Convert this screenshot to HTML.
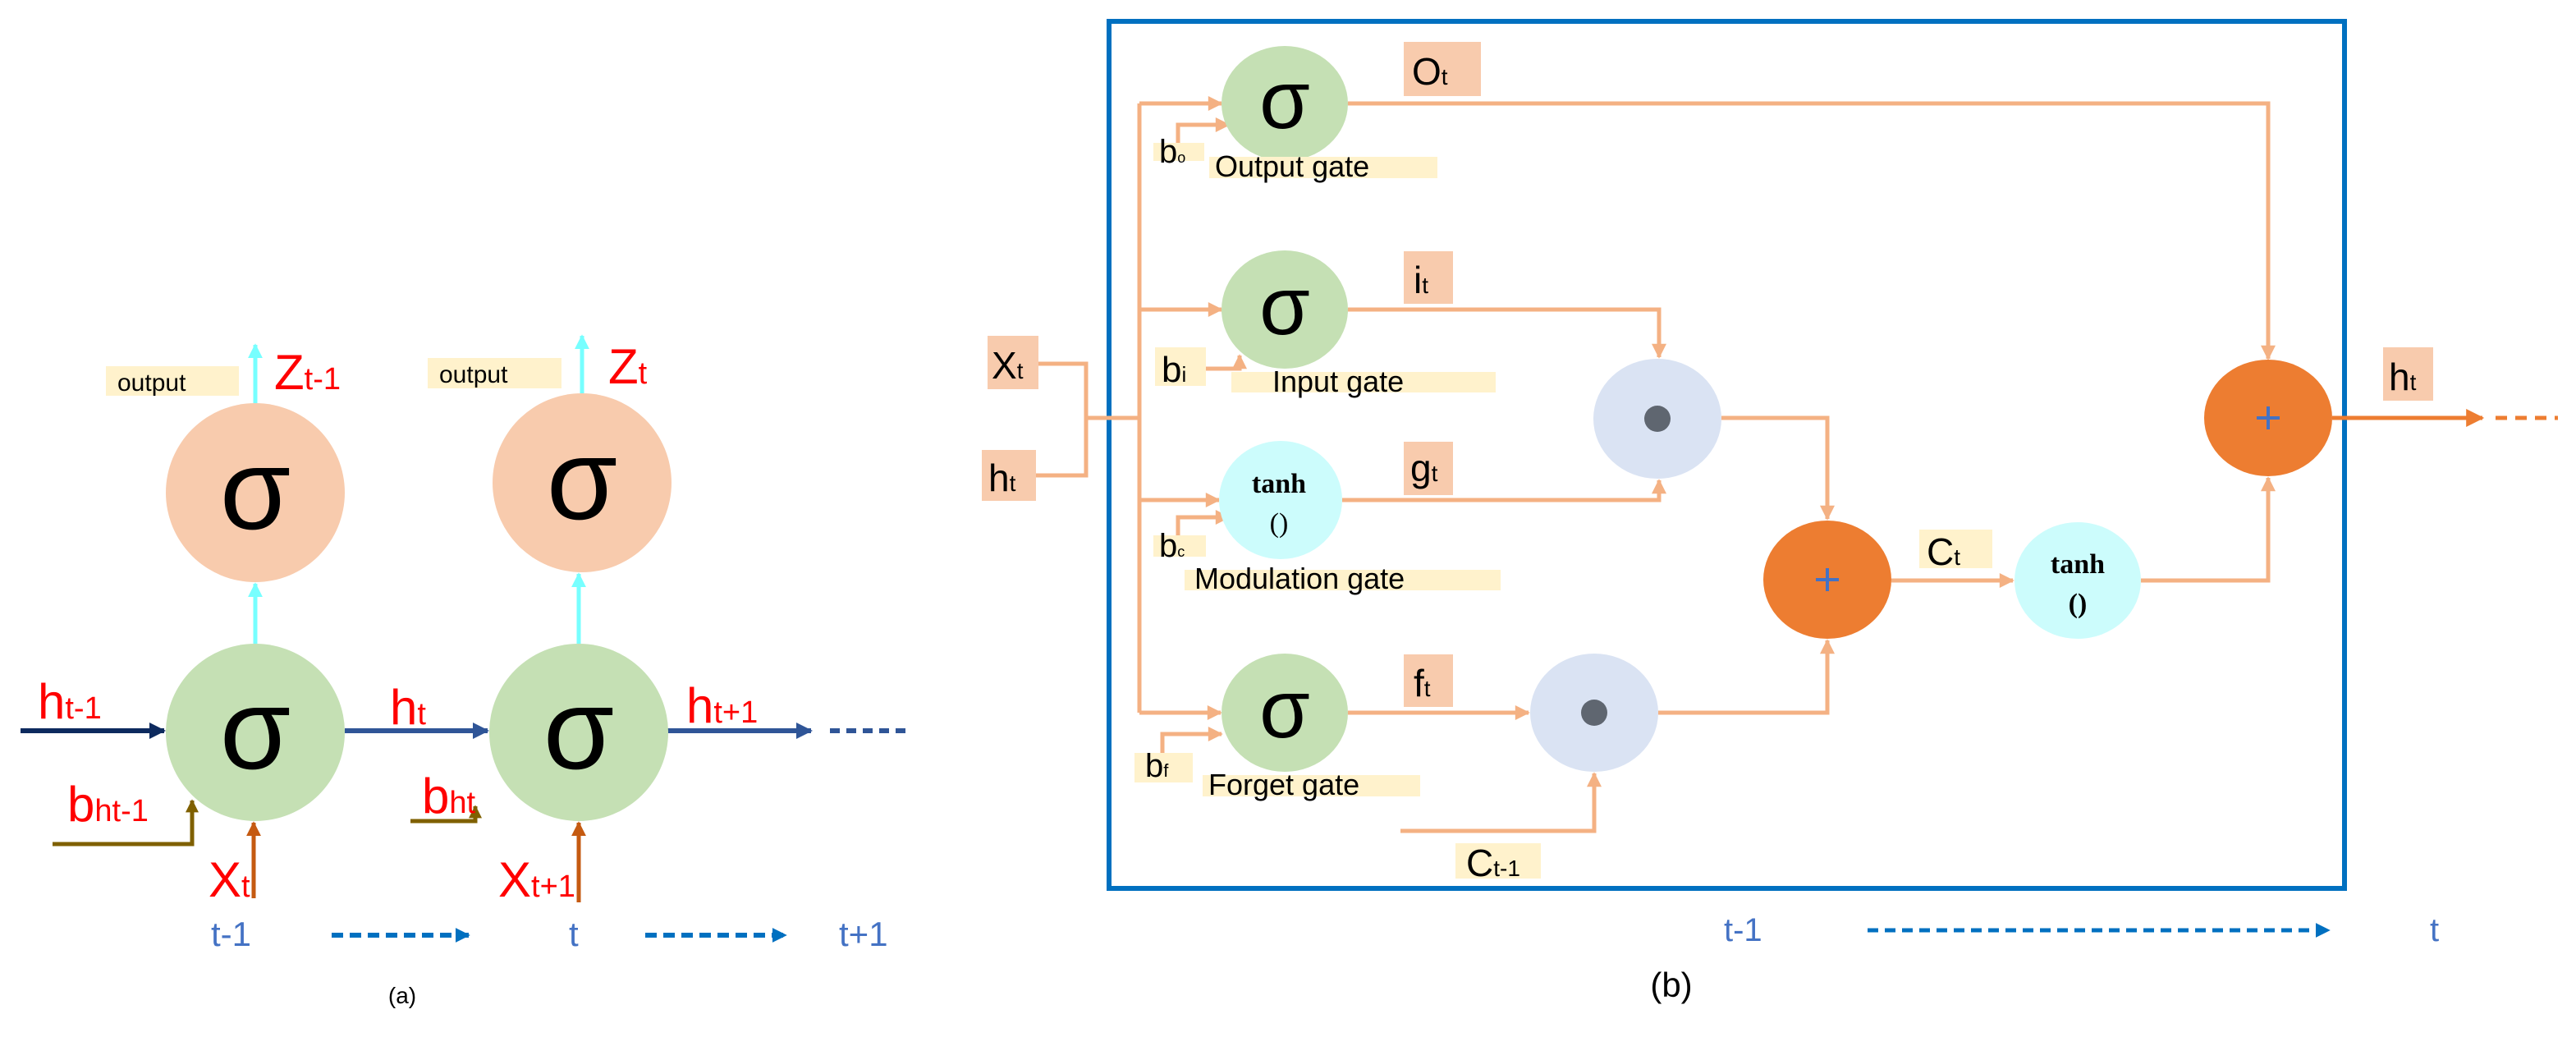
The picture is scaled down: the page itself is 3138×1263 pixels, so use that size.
<!DOCTYPE html>
<html><head><meta charset="utf-8"><style>html,body{margin:0;padding:0;background:#fff}svg{display:block}</style></head><body>
<svg width="3138" height="1263" viewBox="0 0 3138 1263" xmlns="http://www.w3.org/2000/svg" font-family="Liberation Sans, sans-serif">
<defs>
<marker id="ao" markerWidth="8" markerHeight="8" refX="7" refY="4" orient="auto" markerUnits="userSpaceOnUse"><path d="M0,0 L8,4 L0,8z" fill="#f4b183"/></marker>
<marker id="ao2" viewBox="0 0 10 10" markerWidth="22" markerHeight="18" refX="9" refY="5" orient="auto" markerUnits="userSpaceOnUse"><path d="M0,0 L10,5 L0,10z" fill="#f4b183"/></marker>
<marker id="ahd" viewBox="0 0 10 10" markerWidth="24" markerHeight="22" refX="9" refY="5" orient="auto" markerUnits="userSpaceOnUse"><path d="M0,0 L10,5 L0,10z" fill="#ed7d31"/></marker>
<marker id="an" viewBox="0 0 10 10" markerWidth="20" markerHeight="20" refX="9" refY="5" orient="auto" markerUnits="userSpaceOnUse"><path d="M0,0 L10,5 L0,10z" fill="#0d2a5e"/></marker>
<marker id="ab" viewBox="0 0 10 10" markerWidth="20" markerHeight="20" refX="9" refY="5" orient="auto" markerUnits="userSpaceOnUse"><path d="M0,0 L10,5 L0,10z" fill="#2f5597"/></marker>
<marker id="ac" viewBox="0 0 10 10" markerWidth="18" markerHeight="18" refX="9" refY="5" orient="auto" markerUnits="userSpaceOnUse"><path d="M0,0 L10,5 L0,10z" fill="#7ff"/></marker>
<marker id="abr" viewBox="0 0 10 10" markerWidth="16" markerHeight="16" refX="9" refY="5" orient="auto" markerUnits="userSpaceOnUse"><path d="M0,0 L10,5 L0,10z" fill="#7f6000"/></marker>
<marker id="ax" viewBox="0 0 10 10" markerWidth="18" markerHeight="18" refX="9" refY="5" orient="auto" markerUnits="userSpaceOnUse"><path d="M0,0 L10,5 L0,10z" fill="#c55a11"/></marker>
<marker id="adb" viewBox="0 0 10 10" markerWidth="18" markerHeight="18" refX="9" refY="5" orient="auto" markerUnits="userSpaceOnUse"><path d="M0,0 L10,5 L0,10z" fill="#0070c0"/></marker>
</defs>

<!-- ============ PANEL A ============ -->
<g stroke-width="5" fill="none">
<line x1="311" y1="491" x2="311" y2="420" stroke="#7ff" marker-end="url(#ac)"/>
<line x1="709" y1="479" x2="709" y2="409" stroke="#7ff" marker-end="url(#ac)"/>
<line x1="311" y1="784" x2="311" y2="711" stroke="#7ff" marker-end="url(#ac)"/>
<line x1="705" y1="784" x2="705" y2="699" stroke="#7ff" marker-end="url(#ac)"/>
<line x1="25" y1="890" x2="200" y2="890" stroke="#0d2a5e" stroke-width="6" marker-end="url(#an)"/>
<line x1="420" y1="890" x2="594" y2="890" stroke="#2f5597" stroke-width="6" marker-end="url(#ab)"/>
<line x1="812" y1="890" x2="988" y2="890" stroke="#2f5597" stroke-width="6" marker-end="url(#ab)"/>
<line x1="1011" y1="890" x2="1107" y2="890" stroke="#2f5597" stroke-width="6" stroke-dasharray="12,8"/>
<polyline points="64,1028 234,1028 234,975" stroke="#7f6000" marker-end="url(#abr)"/>
<polyline points="500,1000 579,1000 579,982" stroke="#7f6000" marker-end="url(#abr)"/>
<line x1="309" y1="1094" x2="309" y2="1002" stroke="#c55a11" marker-end="url(#ax)"/>
<line x1="705" y1="1099" x2="705" y2="1002" stroke="#c55a11" marker-end="url(#ax)"/>
<line x1="404" y1="1139" x2="571" y2="1139" stroke="#0070c0" stroke-width="6" stroke-dasharray="14,8" marker-end="url(#adb)"/>
<line x1="786" y1="1139" x2="957" y2="1139" stroke="#0070c0" stroke-width="6" stroke-dasharray="14,8" marker-end="url(#adb)"/>
</g>
<ellipse cx="311" cy="600" rx="109" ry="109" fill="#f8cbad"/>
<ellipse cx="709" cy="588" rx="109" ry="109" fill="#f8cbad"/>
<ellipse cx="311" cy="892" rx="109" ry="108" fill="#c5e0b4"/>
<ellipse cx="705" cy="892" rx="109" ry="108" fill="#c5e0b4"/>
<g font-size="140" text-anchor="middle" fill="#000">
<text x="311" y="644">σ</text><text x="709" y="632">σ</text>
<text x="311" y="936">σ</text><text x="705" y="936">σ</text>
</g>
<rect x="129" y="446" width="162" height="36" fill="#fff2cc"/>
<rect x="521" y="436" width="163" height="37" fill="#fff2cc"/>
<g font-size="30" fill="#000"><text x="143" y="476">output</text><text x="535" y="466">output</text></g>
<g fill="#ff0000" font-size="60">
<text x="334" y="474">Z<tspan font-size="38">t-1</tspan></text>
<text x="741" y="467">Z<tspan font-size="38">t</tspan></text>
<text x="46" y="875">h<tspan font-size="38">t-1</tspan></text>
<text x="475" y="882">h<tspan font-size="38">t</tspan></text>
<text x="836" y="880">h<tspan font-size="38">t+1</tspan></text>
<text x="82" y="1000">b<tspan font-size="38">ht-1</tspan></text>
<text x="514" y="990">b<tspan font-size="38">ht</tspan></text>
<text x="254" y="1092">X<tspan font-size="38">t</tspan></text>
<text x="607" y="1092">X<tspan font-size="38">t+1</tspan></text>
</g>
<g fill="#4472c4" font-size="42">
<text x="257" y="1152">t-1</text><text x="693" y="1152">t</text><text x="1022" y="1152">t+1</text>
</g>
<text x="490" y="1222" font-size="28" text-anchor="middle">(a)</text>

<!-- ============ PANEL B ============ -->
<rect x="1351" y="26" width="1505" height="1056" fill="none" stroke="#0070c0" stroke-width="6"/>
<g stroke="#f4b183" stroke-width="5" fill="none">
<polyline points="1265,443 1323,443 1323,579 1262,579"/>
<line x1="1323" y1="509" x2="1388" y2="509"/>
<line x1="1388" y1="126" x2="1388" y2="868"/>
<line x1="1388" y1="126" x2="1488" y2="126" marker-end="url(#ao2)"/>
<line x1="1388" y1="377" x2="1488" y2="377" marker-end="url(#ao2)"/>
<line x1="1388" y1="609" x2="1485" y2="609" marker-end="url(#ao2)"/>
<line x1="1388" y1="868" x2="1487" y2="868" marker-end="url(#ao2)"/>
<polyline points="1435,176 1435,152 1497,152" marker-end="url(#ao2)"/>
<polyline points="1469,449 1510,449 1510,433" marker-end="url(#ao2)"/>
<polyline points="1435,654 1435,630 1497,630" marker-end="url(#ao2)"/>
<polyline points="1416,918 1416,894 1488,894" marker-end="url(#ao2)"/>
<polyline points="1642,126 2763,126 2763,437" marker-end="url(#ao2)"/>
<polyline points="1642,377 2021,377 2021,435" marker-end="url(#ao2)"/>
<polyline points="1635,609 2021,609 2021,585" marker-end="url(#ao2)"/>
<line x1="1642" y1="868" x2="1862" y2="868" marker-end="url(#ao2)"/>
<polyline points="1706,1012 1942,1012 1942,942" marker-end="url(#ao2)"/>
<polyline points="2097,509 2226,509 2226,632" marker-end="url(#ao2)"/>
<polyline points="2020,868 2226,868 2226,780" marker-end="url(#ao2)"/>
<line x1="2304" y1="707" x2="2452" y2="707" marker-end="url(#ao2)"/>
<polyline points="2608,707 2763,707 2763,582" marker-end="url(#ao2)"/>
</g>
<line x1="2841" y1="509" x2="3024" y2="509" stroke="#ed7d31" stroke-width="5" marker-end="url(#ahd)"/>
<line x1="3040" y1="509" x2="3116" y2="509" stroke="#ed7d31" stroke-width="5" stroke-dasharray="14,10"/>
<line x1="2275" y1="1133" x2="2837" y2="1133" stroke="#0070c0" stroke-width="5" stroke-dasharray="13,8" marker-end="url(#adb)"/>

<ellipse cx="1565" cy="126" rx="77" ry="70" fill="#c5e0b4"/>
<ellipse cx="1565" cy="377" rx="77" ry="72" fill="#c5e0b4"/>
<ellipse cx="1560" cy="609" rx="75" ry="72" fill="#ccfcfc"/>
<ellipse cx="1565" cy="868" rx="77" ry="72" fill="#c5e0b4"/>
<ellipse cx="2019" cy="510" rx="78" ry="73" fill="#dae3f3"/>
<ellipse cx="1942" cy="868" rx="78" ry="72" fill="#dae3f3"/>
<circle cx="2019" cy="510" r="16" fill="#5f6670"/>
<circle cx="1942" cy="868" r="16" fill="#5f6670"/>
<ellipse cx="2226" cy="706" rx="78" ry="72" fill="#ed7d31"/>
<ellipse cx="2763" cy="509" rx="78" ry="71" fill="#ed7d31"/>
<ellipse cx="2531" cy="707" rx="77" ry="71" fill="#ccfcfc"/>
<g stroke="#4472c4" stroke-width="4"><path d="M2212,706h28M2226,692v28M2749,509h28M2763,495v28"/></g>
<g font-size="100" text-anchor="middle">
<text x="1565" y="156">σ</text><text x="1565" y="407">σ</text><text x="1565" y="898">σ</text>
</g>
<g font-family="Liberation Serif, serif" font-weight="bold" font-size="34" text-anchor="middle">
<text x="1558" y="600">tanh</text><text x="1558" y="648" font-weight="normal">()</text>
<text x="2531" y="698">tanh</text><text x="2531" y="746">()</text>
</g>
<!-- labels peach -->
<g fill="#f8cbad">
<rect x="1710" y="51" width="94" height="66"/>
<rect x="1710" y="306" width="60" height="64"/>
<rect x="1710" y="538" width="60" height="65"/>
<rect x="1710" y="797" width="60" height="64"/>
<rect x="1203" y="409" width="62" height="65"/>
<rect x="1196" y="548" width="66" height="62"/>
<rect x="2903" y="423" width="61" height="65"/>
</g>
<g fill="#fff2cc">
<rect x="1405" y="174" width="62" height="22"/>
<rect x="1473" y="191" width="278" height="26"/>
<rect x="1407" y="423" width="62" height="47"/>
<rect x="1500" y="453" width="322" height="25"/>
<rect x="1405" y="652" width="64" height="26"/>
<rect x="1443" y="694" width="385" height="25"/>
<rect x="1382" y="917" width="71" height="36"/>
<rect x="1465" y="944" width="265" height="26"/>
<rect x="1773" y="1027" width="104" height="43"/>
<rect x="2338" y="645" width="89" height="47"/>
</g>
<g font-size="46" fill="#000">
<text x="1720" y="103">O<tspan font-size="28">t</tspan></text>
<text x="1722" y="357">i<tspan font-size="28">t</tspan></text>
<text x="1718" y="586">g<tspan font-size="28">t</tspan></text>
<text x="1722" y="848">f<tspan font-size="28">t</tspan></text>
<text x="1208" y="461">X<tspan font-size="28">t</tspan></text>
<text x="1204" y="598">h<tspan font-size="28">t</tspan></text>
<text x="2910" y="475">h<tspan font-size="28">t</tspan></text>
<text x="1786" y="1067">C<tspan font-size="28">t-1</tspan></text>
<text x="2347" y="688">C<tspan font-size="28">t</tspan></text>
<text x="1412" y="198" font-size="40">b<tspan font-size="18">o</tspan></text>
<text x="1415" y="465" font-size="44">b<tspan font-size="26">i</tspan></text>
<text x="1412" y="678" font-size="40">b<tspan font-size="18">c</tspan></text>
<text x="1395" y="946" font-size="40">b<tspan font-size="22">f</tspan></text>
</g>
<g font-size="36" fill="#000">
<text x="1480" y="215">Output gate</text>
<text x="1550" y="477">Input gate</text>
<text x="1455" y="717">Modulation gate</text>
<text x="1472" y="968">Forget gate</text>
</g>
<g fill="#4472c4" font-size="40">
<text x="2100" y="1146">t-1</text><text x="2960" y="1146">t</text>
</g>
<text x="2036" y="1214" font-size="42" text-anchor="middle">(b)</text>
</svg>
</body></html>
